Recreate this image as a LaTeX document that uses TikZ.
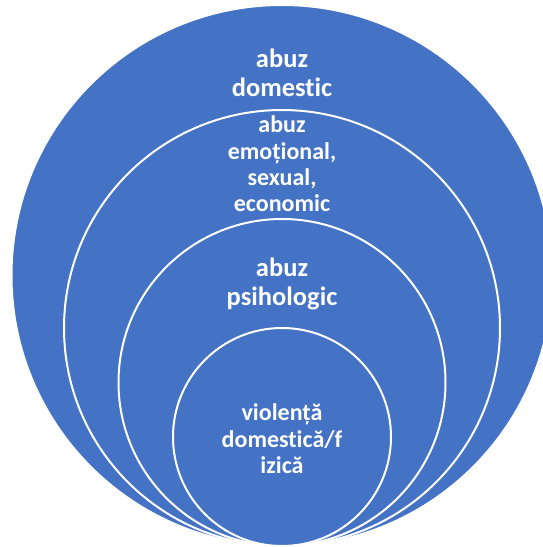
\documentclass[tikz,border=0pt]{standalone}
\usepackage{fontspec}
\setmainfont{Carlito}[Ligatures=NoCommon]
\usepackage{tikz}
\usetikzlibrary{positioning}
\definecolor{ringblue}{RGB}{68,114,196}

\begin{document}
\begin{tikzpicture}[
    x=1pt, y=1pt,
    % --- 定義節點樣式 ---
    % 圓形節點樣式
    ring/.style={
        circle,
        draw=white,
        line width=2pt,
        fill=ringblue,
        inner sep=0pt,
        outer sep=0pt,
        anchor=south
    },
    % 大字標籤樣式
    bigtxt/.style={
        text=white,
        align=center,
        inner sep=0pt,
        outer sep=0pt,
        font=\fontsize{26.5}{29}\selectfont\bfseries
    },
    % 小字標籤樣式
    smalltxt/.style={
        bigtxt,
        font=\fontsize{24}{26.3}\selectfont\bfseries
    }
]
% 固定圖片邊界
\useasboundingbox (0,0) rectangle (543,547);

% --- 繪製同心圓 ---
% 所有圓相切於底部
\coordinate (base) at (282,1);
\node[ring, minimum size=541pt] (outer) at (base) {};
\node[ring, minimum size=436pt] (emotional) at (base) {};
\node[ring, minimum size=327pt] (psiho) at (base) {};
\node[ring, minimum size=218pt] (fizica) at (base) {};

% --- 繪製文字 ---
\node[bigtxt, below=44pt of outer.north] (t-domestic) {abuz\\domestic};
\node[smalltxt, below=6pt of emotional.north] (t-emotional) {abuz\\emoțional,\\sexual,\\economic};
\node[bigtxt, below=39pt of psiho.north] (t-psiho) {abuz\\psihologic};
\node[smalltxt, below=76pt of fizica.north] (t-fizica) {violență\\domestică/f\\izică};

\end{tikzpicture}
\end{document}
